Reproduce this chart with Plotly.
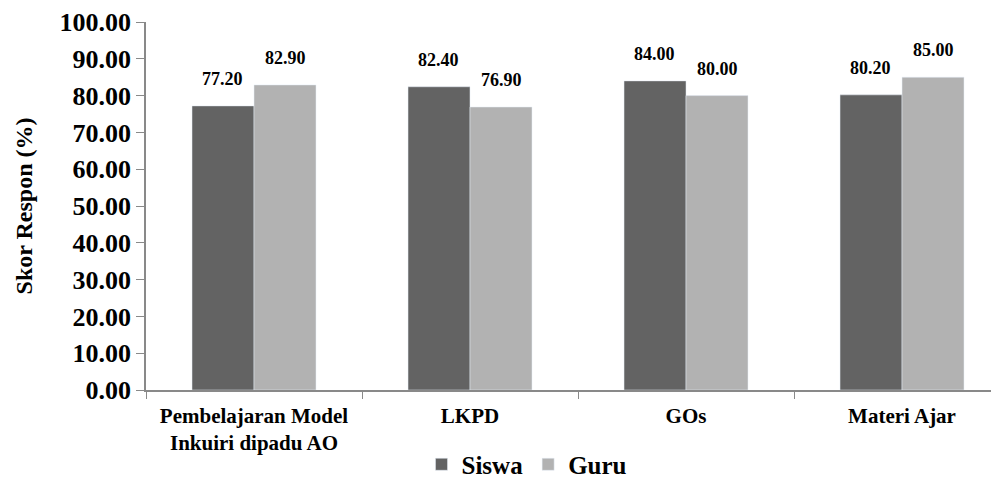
import plotly.graph_objects as go

categories = ["Pembelajaran Model<br>Inkuiri dipadu AO", "LKPD", "GOs", "Materi Ajar"]
siswa = [77.20, 82.40, 84.00, 80.20]
guru = [82.90, 76.90, 80.00, 85.00]
y_ticks = [0, 10, 20, 30, 40, 50, 60, 70, 80, 90, 100]

FONT = "Liberation Serif"
fig = go.Figure()
fig.add_trace(go.Bar(name="<b>Siswa</b>", x=categories, y=siswa, marker_color="#636363"))
fig.add_trace(go.Bar(name="<b>Guru</b>", x=categories, y=guru, marker_color="#b2b2b2"))

for i, (s, g) in enumerate(zip(siswa, guru)):
    for off, v in ((-0.144, s), (0.144, g)):
        fig.add_annotation(x=i + off, y=v, text=f"<b>{v:.2f}</b>", showarrow=False,
                           yanchor="bottom", yshift=15,
                           font=dict(family=FONT, size=18, color="black"))

fig.update_layout(
    width=999, height=493,
    margin=dict(l=138, r=0, t=14, b=111, autoexpand=False),
    paper_bgcolor="white", plot_bgcolor="white",
    barmode="group", bargap=0.426, bargroupgap=0,
    font=dict(family=FONT, color="black"),
    showlegend=True,
    legend=dict(orientation="h", x=0.4425, xanchor="center",
                y=-0.14, yanchor="top",
                font=dict(family=FONT, size=25, color="black"), itemwidth=30,
                traceorder="normal"),
    xaxis=dict(type="category", range=[-0.5, 3.486], showline=True, linecolor="#898989",
               linewidth=1.5, ticks="outside", tickson="boundaries", ticklen=7,
               tickcolor="#898989", tickfont=dict(family=FONT, size=21, color="black"),
               tickangle=0,
               showgrid=False, automargin=False, ticklabelstandoff=6),
    yaxis=dict(range=[0, 100], tickvals=y_ticks, ticktext=[f"<b>{v:.2f}</b>" for v in y_ticks],
               showline=True, linecolor="#898989", linewidth=1.5, ticks="outside",
               ticklen=8, tickcolor="#898989", showgrid=False, zeroline=False,
               automargin=False,
               tickfont=dict(family=FONT, size=26, color="black"),
               title=dict(text="<b>Skor Respon (%)</b>", font=dict(family=FONT, size=24, color="black"),
                          standoff=20)),
)
fig.for_each_xaxis(lambda a: a.update(ticktext=[f"<b>{c}</b>" for c in categories], tickvals=categories))
fig.write_html("out.html")
